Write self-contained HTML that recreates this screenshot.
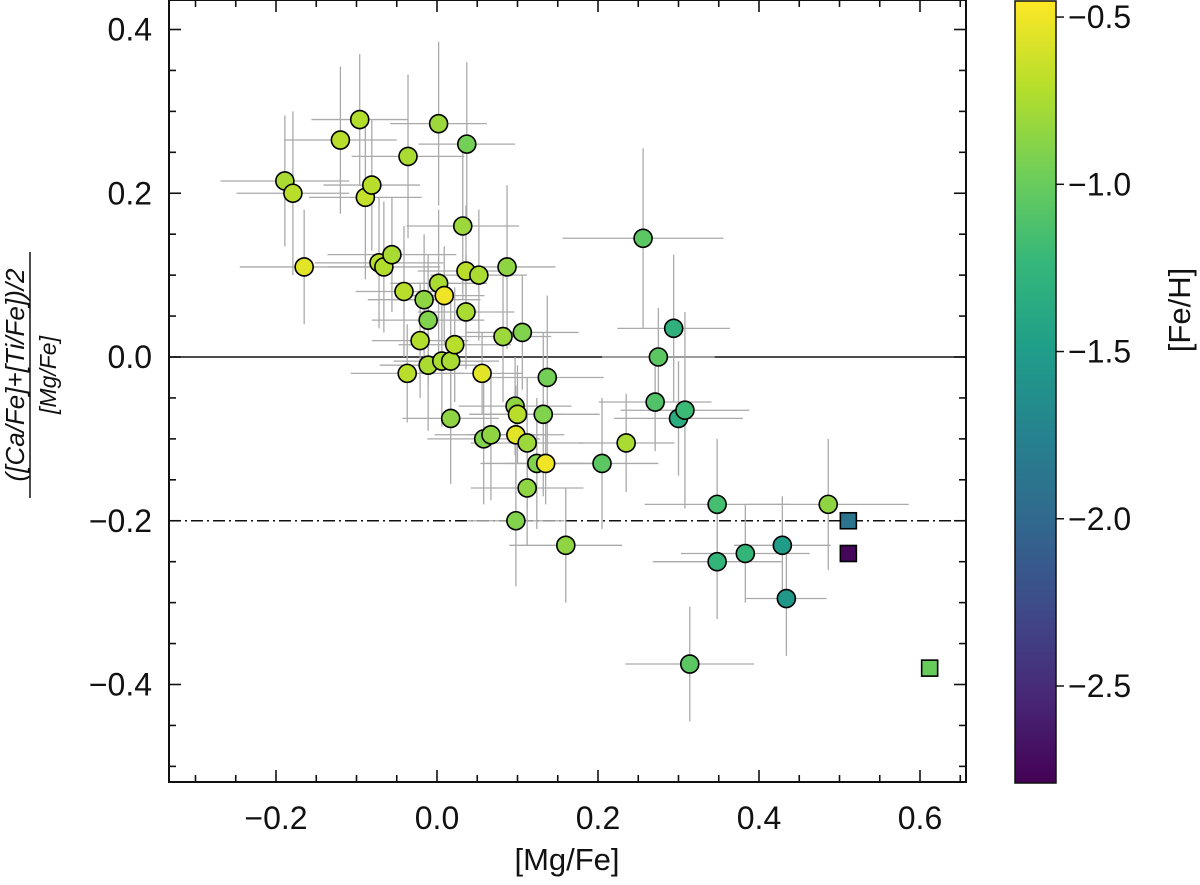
<!DOCTYPE html>
<html><head><meta charset="utf-8"><style>
body{margin:0;background:#fff;}
svg text{font-family:"Liberation Sans","DejaVu Sans",sans-serif;fill:#111;}
</style></head><body>
<svg id="c" width="1200" height="880" xmlns="http://www.w3.org/2000/svg"></svg>
<script>
const xVals=[-0.189,-0.179,-0.165,-0.12,-0.096,-0.089,-0.081,-0.072,-0.066,-0.056,-0.036,-0.041,-0.037,-0.021,-0.016,-0.011,-0.011,0.002,0.009,0.006,0.002,0.017,0.022,0.017,0.032,0.036,0.037,0.036,0.052,0.056,0.058,0.067,0.082,0.087,0.097,0.098,0.10,0.106,0.112,0.112,0.098,0.124,0.135,0.132,0.137,0.16,0.205,0.235,0.256,0.294,0.275,0.271,0.30,0.308,0.314,0.348,0.348,0.383,0.429,0.434,0.486];
const yVals=[0.215,0.20,0.11,0.265,0.29,0.195,0.21,0.115,0.11,0.125,0.245,0.08,-0.02,0.02,0.07,0.045,-0.01,0.09,0.075,-0.005,0.285,-0.005,0.015,-0.075,0.16,0.105,0.26,0.055,0.10,-0.02,-0.10,-0.095,0.025,0.11,-0.06,-0.095,-0.07,0.03,-0.105,-0.16,-0.20,-0.13,-0.13,-0.07,-0.025,-0.23,-0.13,-0.105,0.145,0.035,0.0,-0.055,-0.075,-0.065,-0.375,-0.18,-0.25,-0.24,-0.23,-0.295,-0.18];
const feh=[-0.75,-0.7,-0.55,-0.7,-0.72,-0.65,-0.7,-0.7,-0.72,-0.75,-0.75,-0.7,-0.7,-0.72,-0.85,-0.9,-0.75,-0.75,-0.5,-0.75,-0.8,-0.75,-0.7,-0.85,-0.8,-0.7,-0.95,-0.75,-0.75,-0.55,-0.9,-0.85,-0.8,-0.85,-0.85,-0.55,-0.7,-0.9,-0.8,-0.85,-0.9,-0.9,-0.5,-0.9,-0.95,-0.85,-1.05,-0.75,-1.05,-1.3,-1.05,-1.1,-1.35,-1.2,-1.05,-1.15,-1.25,-1.25,-1.5,-1.55,-0.85];
const xErr=[0.08,0.07,0.08,0.07,0.06,0.07,0.06,0.08,0.07,0.08,0.07,0.06,0.07,0.06,0.07,0.07,0.06,0.06,0.05,0.06,0.06,0.06,0.07,0.06,0.07,0.06,0.06,0.06,0.06,0.05,0.07,0.07,0.06,0.06,0.07,0.06,0.06,0.07,0.07,0.07,0.06,0.07,0.05,0.07,0.07,0.07,0.07,0.06,0.1,0.07,0.07,0.07,0.08,0.08,0.08,0.09,0.08,0.08,0.06,0.05,0.1];
const yErr=[0.08,0.1,0.07,0.09,0.08,0.1,0.08,0.08,0.08,0.07,0.1,0.08,0.06,0.07,0.08,0.08,0.08,0.09,0.06,0.08,0.1,0.08,0.07,0.08,0.09,0.08,0.1,0.07,0.08,0.05,0.08,0.08,0.08,0.1,0.06,0.06,0.06,0.07,0.08,0.07,0.08,0.08,0.05,0.1,0.1,0.07,0.08,0.06,0.11,0.09,0.06,0.06,0.07,0.12,0.07,0.08,0.07,0.06,0.06,0.07,0.08];
const sqX=[0.511,0.511,0.612];
const sqY=[-0.20,-0.24,-0.38];
const sqFeh=[-1.9,-2.75,-1.0];
const xTicks=[-0.2,0.0,0.2,0.4,0.6];
const yTicks=[0.4,0.2,0.0,-0.2,-0.4];
const cTicks=[-0.5,-1.0,-1.5,-2.0,-2.5];

const NS="http://www.w3.org/2000/svg";
const svg=document.getElementById('c');
const L=169,R=966,T=0,B=782;
const sx=v=>437+v*805;
const sy=v=>357-v*818.75;
const cT=0,cB=783,cL=1015,cR=1056;
const cmin=-2.79,cmax=-0.449;
const cy=v=>cT+(cmax-v)/(cmax-cmin)*(cB-cT);
function el(t,a,p){const e=document.createElementNS(NS,t);for(const k in a)e.setAttribute(k,a[k]);(p||svg).appendChild(e);return e;}
const vir=[[68,1,84],[72,40,120],[62,74,137],[49,104,142],[38,130,142],[31,158,137],[53,183,121],[110,206,88],[181,222,43],[253,231,37]];
function cmap(v){let t=(v-cmin)/(cmax-cmin);t=Math.max(0,Math.min(1,t))*(vir.length-1);const i=Math.min(vir.length-2,Math.floor(t)),f=t-i;const c=vir[i].map((a,k)=>Math.round(a+(vir[i+1][k]-a)*f));return `rgb(${c[0]},${c[1]},${c[2]})`;}
function fmt(v){return (v<0?'\u2212':'')+Math.abs(v).toFixed(1);}

const zl=el('line',{x1:L,x2:R,y1:sy(0),y2:sy(0),stroke:'#111','stroke-width':1.6});

const dl=el('line',{x1:L,x2:R,y1:sy(-0.2),y2:sy(-0.2),stroke:'#111','stroke-width':1.6,'stroke-dasharray':'12 4 2 4'});


const eg=el('g',{stroke:'#aaa','stroke-width':1.3});

xVals.forEach((x,i)=>{const y=yVals[i];
el('line',{x1:sx(x-xErr[i]),x2:sx(x+xErr[i]),y1:sy(y),y2:sy(y)},eg);
el('line',{x1:sx(x),x2:sx(x),y1:sy(y-yErr[i]),y2:sy(y+yErr[i])},eg);});
xVals.forEach((x,i)=>{const c=el('circle',{cx:sx(x),cy:sy(yVals[i]),r:9,fill:cmap(feh[i]),stroke:'#000','stroke-width':1.6});
});
sqX.forEach((x,i)=>{const s=el('rect',{x:sx(x)-8,y:sy(sqY[i])-8,width:16,height:16,fill:cmap(sqFeh[i]),stroke:'#000','stroke-width':1.6});
});

const fr=el('rect',{x:L,y:T,width:R-L,height:B-T,fill:'none',stroke:'#111','stroke-width':2});

const tg=el('g',{stroke:'#111','stroke-width':1.6});
for(let v=-0.3;v<=0.651;v+=0.05){const p=sx(v);const maj=Math.abs(Math.round(v*10)/10-v)<1e-6&&Math.round(v*10)%2==0;const l=maj?12:7;
el('line',{x1:p,x2:p,y1:B,y2:B-l},tg);el('line',{x1:p,x2:p,y1:T,y2:T+l},tg);}
for(let v=-0.5;v<=0.43;v+=0.05){const p=sy(v);const r=Math.round(v*100);const maj=r%20==0;const l=maj?12:7;
el('line',{x1:L,x2:L+l,y1:p,y2:p},tg);el('line',{x1:R,x2:R-l,y1:p,y2:p},tg);}
xTicks.forEach(v=>{const t=el('text',{x:sx(v),y:829,'font-size':32,'text-anchor':'middle'});t.textContent=fmt(v);
});
yTicks.forEach(v=>{const t=el('text',{x:152,y:sy(v)+11,'font-size':32,'text-anchor':'end'});t.textContent=fmt(v);
});
const xt=el('text',{x:567,y:870,'font-size':31,'text-anchor':'middle'});xt.textContent='[Mg/Fe]';

const yg=el('g',{transform:'translate(30,375) rotate(-90)'});

const n=el('text',{x:0,y:-6,'font-size':26,'text-anchor':'middle','font-style':'italic'},yg);n.textContent='([Ca/Fe]+[Ti/Fe])/2';
el('line',{x1:-123,x2:123,y1:0,y2:0,stroke:'#111','stroke-width':1.5},yg);
const d=el('text',{x:0,y:26,'font-size':23,'text-anchor':'middle','font-style':'italic'},yg);d.textContent='[Mg/Fe]';

const defs=el('defs',{});const gr=el('linearGradient',{id:'vg',x1:0,y1:1,x2:0,y2:0},defs);
vir.forEach((c,i)=>el('stop',{offset:i/(vir.length-1),'stop-color':`rgb(${c})`},gr));
const cb=el('rect',{x:cL,y:cT+1,width:cR-cL,height:cB-cT-1,fill:'url(#vg)',stroke:'#111','stroke-width':1.5});

cTicks.forEach(v=>{const p=cy(v);el('line',{x1:cR,x2:cR+8,y1:p,y2:p,stroke:'#111','stroke-width':1.5});
const t=el('text',{x:1068,y:p+11,'font-size':32});t.textContent=fmt(v);
});
const ct=el('text',{x:0,y:0,'font-size':31,'text-anchor':'middle',transform:'translate(1190,310) rotate(-90)'});ct.textContent='[Fe/H]';

</script>
</body></html>
